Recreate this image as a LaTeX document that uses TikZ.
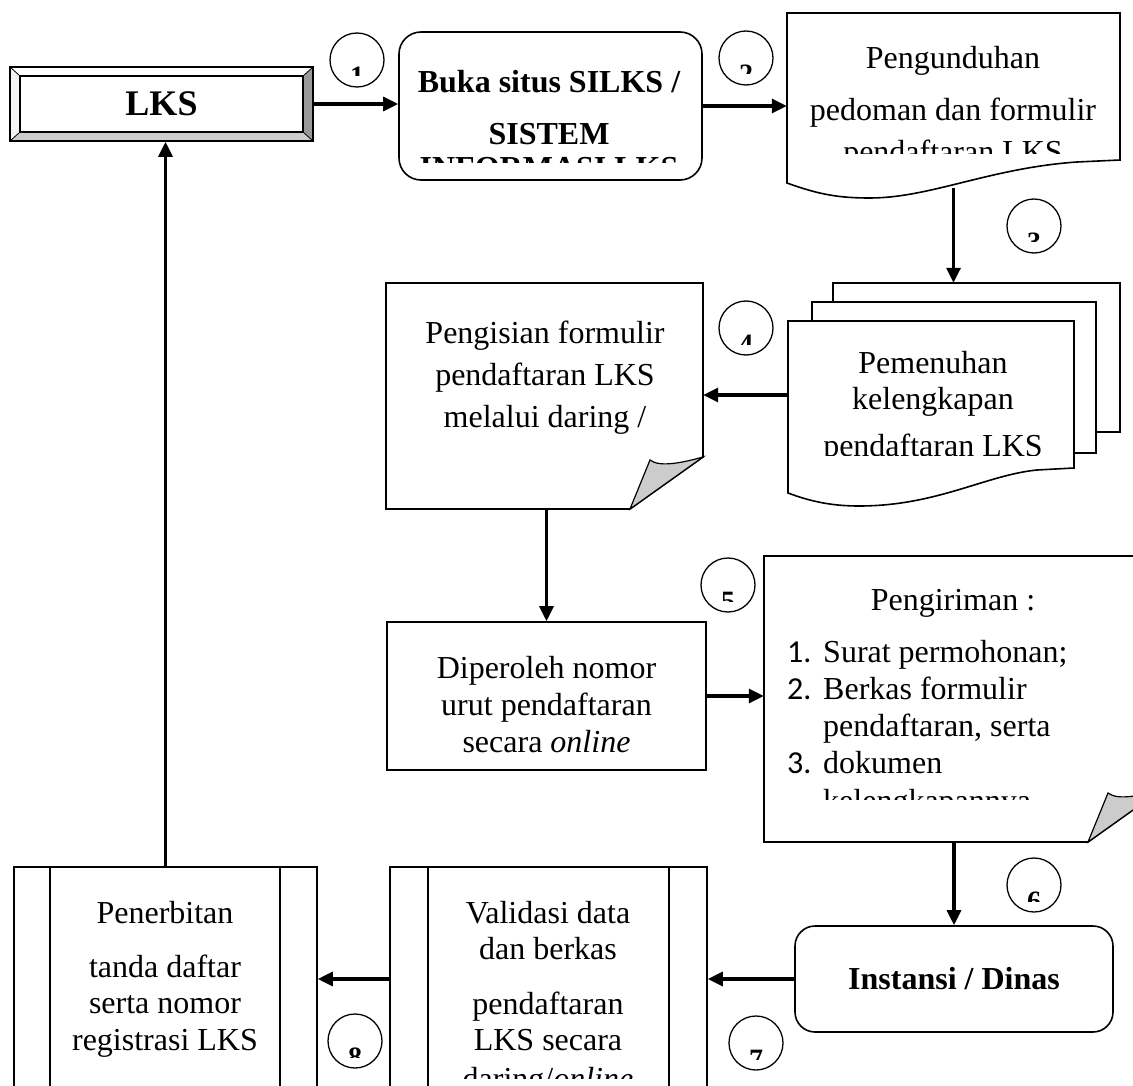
\documentclass[tikz,border=0pt]{standalone}
\usepackage{fontspec}
\setmainfont{Liberation Serif}
\newfontfamily\numfont{Carlito}
\usetikzlibrary{arrows.meta}

\begin{document}
\begin{tikzpicture}[x=1pt,y=-1pt,>={Triangle[length=15pt,width=14pt]},
  txt/.style={align=center,inner sep=0pt,anchor=north,font=\fontsize{32}{37}\selectfont},
  btxt/.style={txt,font=\fontsize{32}{37}\selectfont\bfseries},
  box/.style={draw,line width=1.6pt,inner sep=0pt},
  rbox/.style={box,rounded corners=22pt},
  sheet/.style={draw,fill=white,line width=1.6pt},
  fold/.style={draw,fill=gray!40,line width=1.2pt},
  flow/.style={->,line width=3.2pt},
  numcirc/.style={draw,circle,line width=1.3pt,minimum size=54pt,inner sep=0pt},
  digit/.style={inner sep=0pt,anchor=north,font=\fontsize{28}{28}\selectfont\bfseries}]
  \fill[white] (0,0) rectangle (1133,1086);
  \useasboundingbox (0,0) rectangle (1133,1086);
  \clip (0,0) rectangle (1133,1086);

  % LKS (bevel)
  \fill[gray!8] (10,67) -- (20,76) -- (20,132) -- (10,141) -- cycle;
  \fill[gray!80] (313,67) -- (303,76) -- (303,132) -- (313,141) -- cycle;
  \fill[gray!40] (10,141) -- (20,132) -- (303,132) -- (313,141) -- cycle;
  \draw[line width=0.8pt] (10,67) -- (20,76) (313,67) -- (303,76)
    (10,141) -- (20,132) (313,141) -- (303,132);
  \draw[line width=1.6pt] (20,76) rectangle (303,132);
  \node[box,minimum width=303pt,minimum height=74pt,font=\fontsize{36}{36}\selectfont\bfseries] (lks) at (161.5,104) {LKS};

  % Buka situs
  \node[rbox,minimum width=303pt,minimum height=148pt] (buka) at (550.5,106) {};
  \begin{scope}
    \clip (399,32) rectangle (702,163);
    \node[btxt] (buka-t) at (549,70.4) {Buka situs SILKS /\\[15pt]SISTEM\\[-3pt]INFORMASI LKS};
  \end{scope}

  % Pengunduhan
  \node[minimum width=333pt,minimum height=175pt,inner sep=0pt] (unduh) at (953.5,100.5) {};
  \draw[sheet] (787,13) -- (1120,13) -- (1120,160) -- (1077,162)
    .. controls (990,168) and (930,198) .. (870,198)
    .. controls (840,198) and (820,195) .. (787,183) -- cycle;
  \begin{scope}
    \clip (787,13) rectangle (1120,154);
    \node[txt] (unduh-t) at (953,46.1) {Pengunduhan\\[15pt]pedoman dan formulir\\[5pt]pendaftaran LKS};
  \end{scope}

  % Pemenuhan (multi document)
  \node[minimum width=332pt,minimum height=224pt,inner sep=0pt] (penuh) at (954,395) {};
  \draw[sheet] (833,283) rectangle (1120,432);
  \draw[sheet] (812,302) rectangle (1096,453);
  \draw[sheet] (788,321) -- (1074,321) -- (1074,468) -- (1037,470)
    .. controls (986,475) and (937,506) .. (859,506)
    .. controls (833,506) and (812,502) .. (788,493) -- cycle;
  \begin{scope}
    \clip (788,321) rectangle (1074,455);
    \node[txt] (penuh-t) at (933,351.1) {Pemenuhan\\[-1pt]kelengkapan\\[10pt]pendaftaran LKS};
  \end{scope}

  % Pengisian
  \node[minimum width=317pt,minimum height=226pt,inner sep=0pt] (isi) at (544.5,396) {};
  \draw[sheet] (386,283) -- (703,283) -- (703,457) -- (630,509) -- (386,509) -- cycle;
  \draw[fold] (630,509) -- (650,460) .. controls (660,468) and (685,462) .. (703,457) -- cycle;
  \node[txt] (isi-t) at (545,321.1) {Pengisian formulir\\[5pt]pendaftaran LKS\\[5pt]melalui daring /};

  % Diperoleh
  \node[box,minimum width=319pt,minimum height=148pt] (urut) at (546.5,696) {};
  \node[txt] (urut-t) at (546.5,656.1) {Diperoleh nomor\\urut pendaftaran\\secara \textit{online}};

  % Pengiriman
  \node[minimum width=397pt,minimum height=286pt,inner sep=0pt] (kirim) at (962.5,699) {};
  \draw[sheet] (764,556) -- (1161,556) -- (1161,790) -- (1088,842) -- (764,842) -- cycle;
  \draw[fold] (1088,842) -- (1108,793) .. controls (1118,801) and (1143,795) .. (1161,790) -- cycle;
  \node[txt,anchor=base] (kirim-t) at (953,610) {Pengiriman :};
  \begin{scope}
    \clip (764,556) rectangle (1133,799);
    \node[txt,align=left,anchor=north west] (kirim-l) at (787,640.1)
      {\makebox[36pt][l]{\numfont 1.}Surat permohonan;\\
       \makebox[36pt][l]{\numfont 2.}Berkas formulir\\
       \hspace*{36pt}pendaftaran, serta\\
       \makebox[36pt][l]{\numfont 3.}dokumen\\[1pt]
       \hspace*{36pt}kelengkapannya};
  \end{scope}

  % Instansi / Dinas
  \node[rbox,rounded corners=20pt,minimum width=318pt,minimum height=106pt,font=\fontsize{32}{37}\selectfont\bfseries] (dinas) at (954,979) {Instansi / Dinas};

  % Validasi
  \node[box,minimum width=317pt,minimum height=233pt] (valid) at (548.5,983.5) {};
  \draw[line width=1.6pt] (428,867) -- (428,1100) (669,867) -- (669,1100);
  \begin{scope}
    \clip (390,867) rectangle (707,1078);
    \node[txt] (valid-t) at (548,901.1) {Validasi data\\[-1.5pt]dan berkas\\[18pt]pendaftaran\\[-0.5pt]LKS secara\\[1.5pt]daring/\textit{online}};
  \end{scope}

  % Penerbitan
  \node[box,minimum width=303pt,minimum height=233pt] (terbit) at (165.5,983.5) {};
  \draw[line width=1.6pt] (50,867) -- (50,1100) (280,867) -- (280,1100);
  \node[txt] (terbit-t) at (165,901.1) {Penerbitan\\[16.5pt]tanda daftar\\[-0.5pt]serta nomor\\registrasi LKS};

  % step numbers
  \foreach \i/\cx/\cy in {1/357/60,2/746/58,3/1034/226,4/746/328,5/728/585,6/1034/885,7/756/1043,8/355/1041}{
    \node[numcirc] (n\i) at (\cx,\cy) {};
    \begin{scope}
      \clip (\cx-27,\cy-27) rectangle (\cx+27,\cy+16);
      \node[digit] (d\i) at (\cx,\cy+7) {\i};
    \end{scope}
  }

  % connectors
  \draw[flow] (lks.east) -- (lks.east -| buka.west);
  \draw[flow] (buka.east) -- (buka.east -| unduh.west);
  \draw[flow] (unduh.south) -- (unduh.south |- penuh.north);
  \draw[flow] (penuh.west) -- (penuh.west -| isi.east);
  \draw[flow] (urut.north |- isi.south) -- (urut.north);
  \draw[flow] (urut.east) -- (urut.east -| kirim.west);
  \draw[flow] (dinas.north |- kirim.south) -- (dinas.north);
  \draw[flow] (dinas.west) -- (dinas.west -| valid.east);
  \draw[flow] (valid.west |- dinas.west) -- (dinas.west -| terbit.east);
  \draw[flow] (terbit.north) -- (terbit.north |- lks.south);
\end{tikzpicture}
\end{document}
